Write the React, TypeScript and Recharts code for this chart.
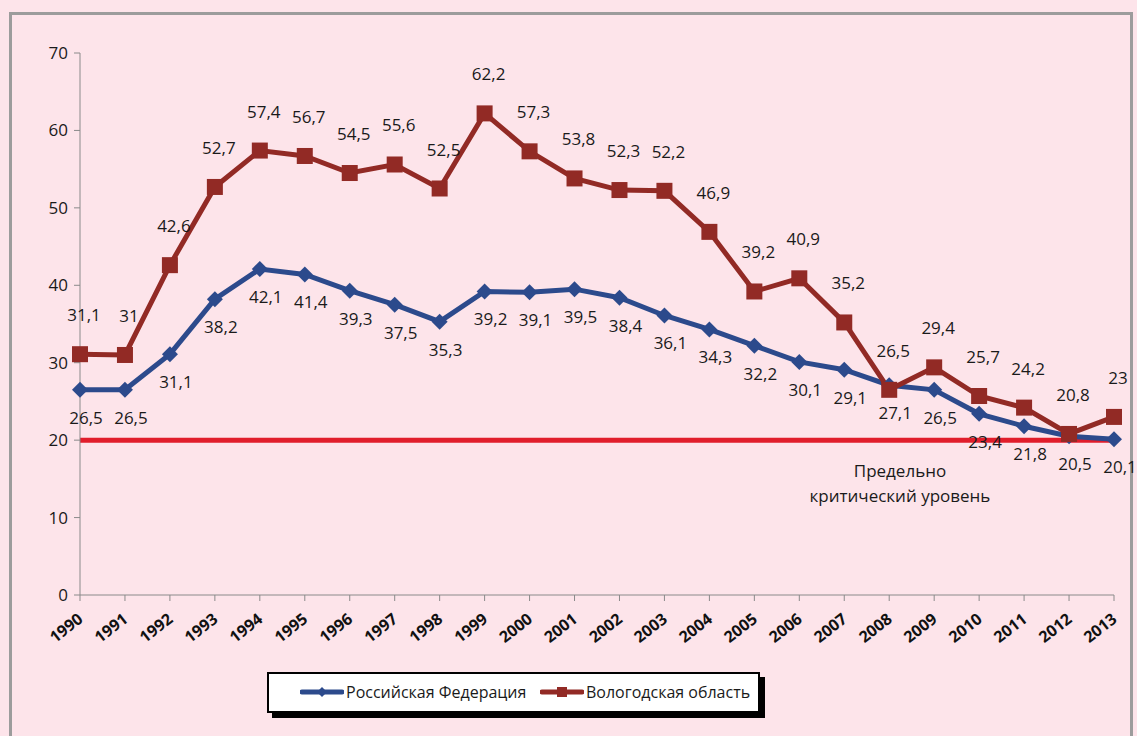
import React from "react";
import { LineChart, Line, XAxis, YAxis, ReferenceLine } from "recharts";

const years = ["1990","1991","1992","1993","1994","1995","1996","1997","1998","1999","2000","2001","2002","2003","2004","2005","2006","2007","2008","2009","2010","2011","2012","2013"];
const russia = [26.5,26.5,31.1,38.2,42.1,41.4,39.3,37.5,35.3,39.2,39.1,39.5,38.4,36.1,34.3,32.2,30.1,29.1,27.1,26.5,23.4,21.8,20.5,20.1];
const vologda = [31.1,31,42.6,52.7,57.4,56.7,54.5,55.6,52.5,62.2,57.3,53.8,52.3,52.2,46.9,39.2,40.9,35.2,26.5,29.4,25.7,24.2,20.8,23];
const seriesNames = ["Российская Федерация", "Вологодская область"];
const yTicks = [0, 10, 20, 30, 40, 50, 60, 70];
const criticalLevel = 20;
const criticalText = ["Предельно", "критический уровень"];

const BLUE = "#2c4a8c";
const RED = "#922a25";
const FONT = "'Open Sans', sans-serif";

const data = years.map((y, i) => ({ year: y, rf: russia[i], vo: vologda[i] }));
const fmt = (v: number) => String(v).replace(".", ",");

const Diamond = (props: any) => {
  const { cx, cy } = props;
  if (cx == null || cy == null) return null;
  const r = 8;
  return <path d={`M${cx},${cy - r}L${cx + r},${cy}L${cx},${cy + r}L${cx - r},${cy}Z`} fill={BLUE} />;
};
const Square = (props: any) => {
  const { cx, cy } = props;
  if (cx == null || cy == null) return null;
  const s = 8;
  return <rect x={cx - s} y={cy - s} width={2 * s} height={2 * s} fill={RED} />;
};

const makeLabel = (dx: number, dy: number) => (props: any) => {
  const { x, y, value } = props;
  return (
    <text x={x + dx} y={y + dy} textAnchor="middle" fontSize={17} fontFamily={FONT} fill="#1a1a1a">
      {fmt(value)}
    </text>
  );
};

const XTick = (props: any) => {
  const { x, y, payload } = props;
  return (
    <g transform={`translate(${x + 4},${y + 18})`}>
      <text transform="rotate(-38)" textAnchor="end" fontSize={16} fontWeight="bold" fontFamily={FONT} fill="#111">
        {payload.value}
      </text>
    </g>
  );
};

const YTick = (props: any) => {
  const { x, y, payload } = props;
  return (
    <text x={x - 4} y={y + 6} textAnchor="end" fontSize={17} fontFamily={FONT} fill="#1a1a1a">
      {payload.value}
    </text>
  );
};

const CriticalLabel = (props: any) => {
  const vb = props.viewBox || {};
  const cx = vb.x + vb.width * 0.793;
  const y = vb.y;
  return (
    <g>
      <text x={cx} y={y + 37} textAnchor="middle" fontSize={17} fontFamily={FONT} fill="#1a1a1a">{criticalText[0]}</text>
      <text x={cx} y={y + 62} textAnchor="middle" fontSize={17} fontFamily={FONT} fill="#1a1a1a">{criticalText[1]}</text>
    </g>
  );
};

const LegendIcon = ({ color, square }: { color: string; square: boolean }) => (
  <svg width={44} height={12} style={{ display: "block" }}>
    <line x1={2} y1={6} x2={42} y2={6} stroke={color} strokeWidth={5} strokeLinecap="round" />
    {square ? <rect x={17} y={1} width={10} height={10} fill={color} /> : <path d="M22,1L27,6L22,11L17,6Z" fill={color} />}
  </svg>
);

export default function App() {
  return (
    <div style={{ position: "absolute", left: 0, top: 0, width: 1137, height: 736, background: "#fde4ea", overflow: "hidden" }}>
      <div style={{ position: "absolute", left: 9, top: 12, width: 1124, height: 740, border: "3px solid #9c9c9c", boxSizing: "border-box" }} />
      <div style={{ position: "absolute", left: 0, top: 0 }}>
        <LineChart width={1137} height={736} data={data} margin={{ top: 53, right: 23, left: 20, bottom: 101 }}>
          <XAxis dataKey="year" height={40} stroke="#8a8a8a" tickLine={{ stroke: "#8a8a8a" }} tickSize={6} interval={0} tick={<XTick />} />
          <YAxis domain={[0, 70]} ticks={yTicks} width={60} stroke="#8a8a8a" tickLine={{ stroke: "#8a8a8a" }} tickSize={6} tick={<YTick />} interval={0} />
          <ReferenceLine y={criticalLevel} stroke="#e11d2b" strokeWidth={5} label={<CriticalLabel />} />
          <Line dataKey="rf" name={seriesNames[0]} stroke={BLUE} strokeWidth={5} dot={<Diamond />} activeDot={false} isAnimationActive={false} label={makeLabel(6, 34)} />
          <Line dataKey="vo" name={seriesNames[1]} stroke={RED} strokeWidth={5} dot={<Square />} activeDot={false} isAnimationActive={false} label={makeLabel(4, -33)} />
        </LineChart>
      </div>
      <div style={{ position: "absolute", left: 267, top: 672, width: 493, height: 41, background: "#fff", border: "2px solid #000", boxSizing: "border-box", boxShadow: "5px 5px 0 #000", fontFamily: FONT, fontSize: 16, color: "#1a1a1a" }}>
        <div style={{ position: "absolute", left: 31, top: 12 }}><LegendIcon color={BLUE} square={false} /></div>
        <div style={{ position: "absolute", left: 77, top: 7 }}>{seriesNames[0]}</div>
        <div style={{ position: "absolute", left: 271, top: 12 }}><LegendIcon color={RED} square={true} /></div>
        <div style={{ position: "absolute", left: 317, top: 7 }}>{seriesNames[1]}</div>
      </div>
    </div>
  );
}
